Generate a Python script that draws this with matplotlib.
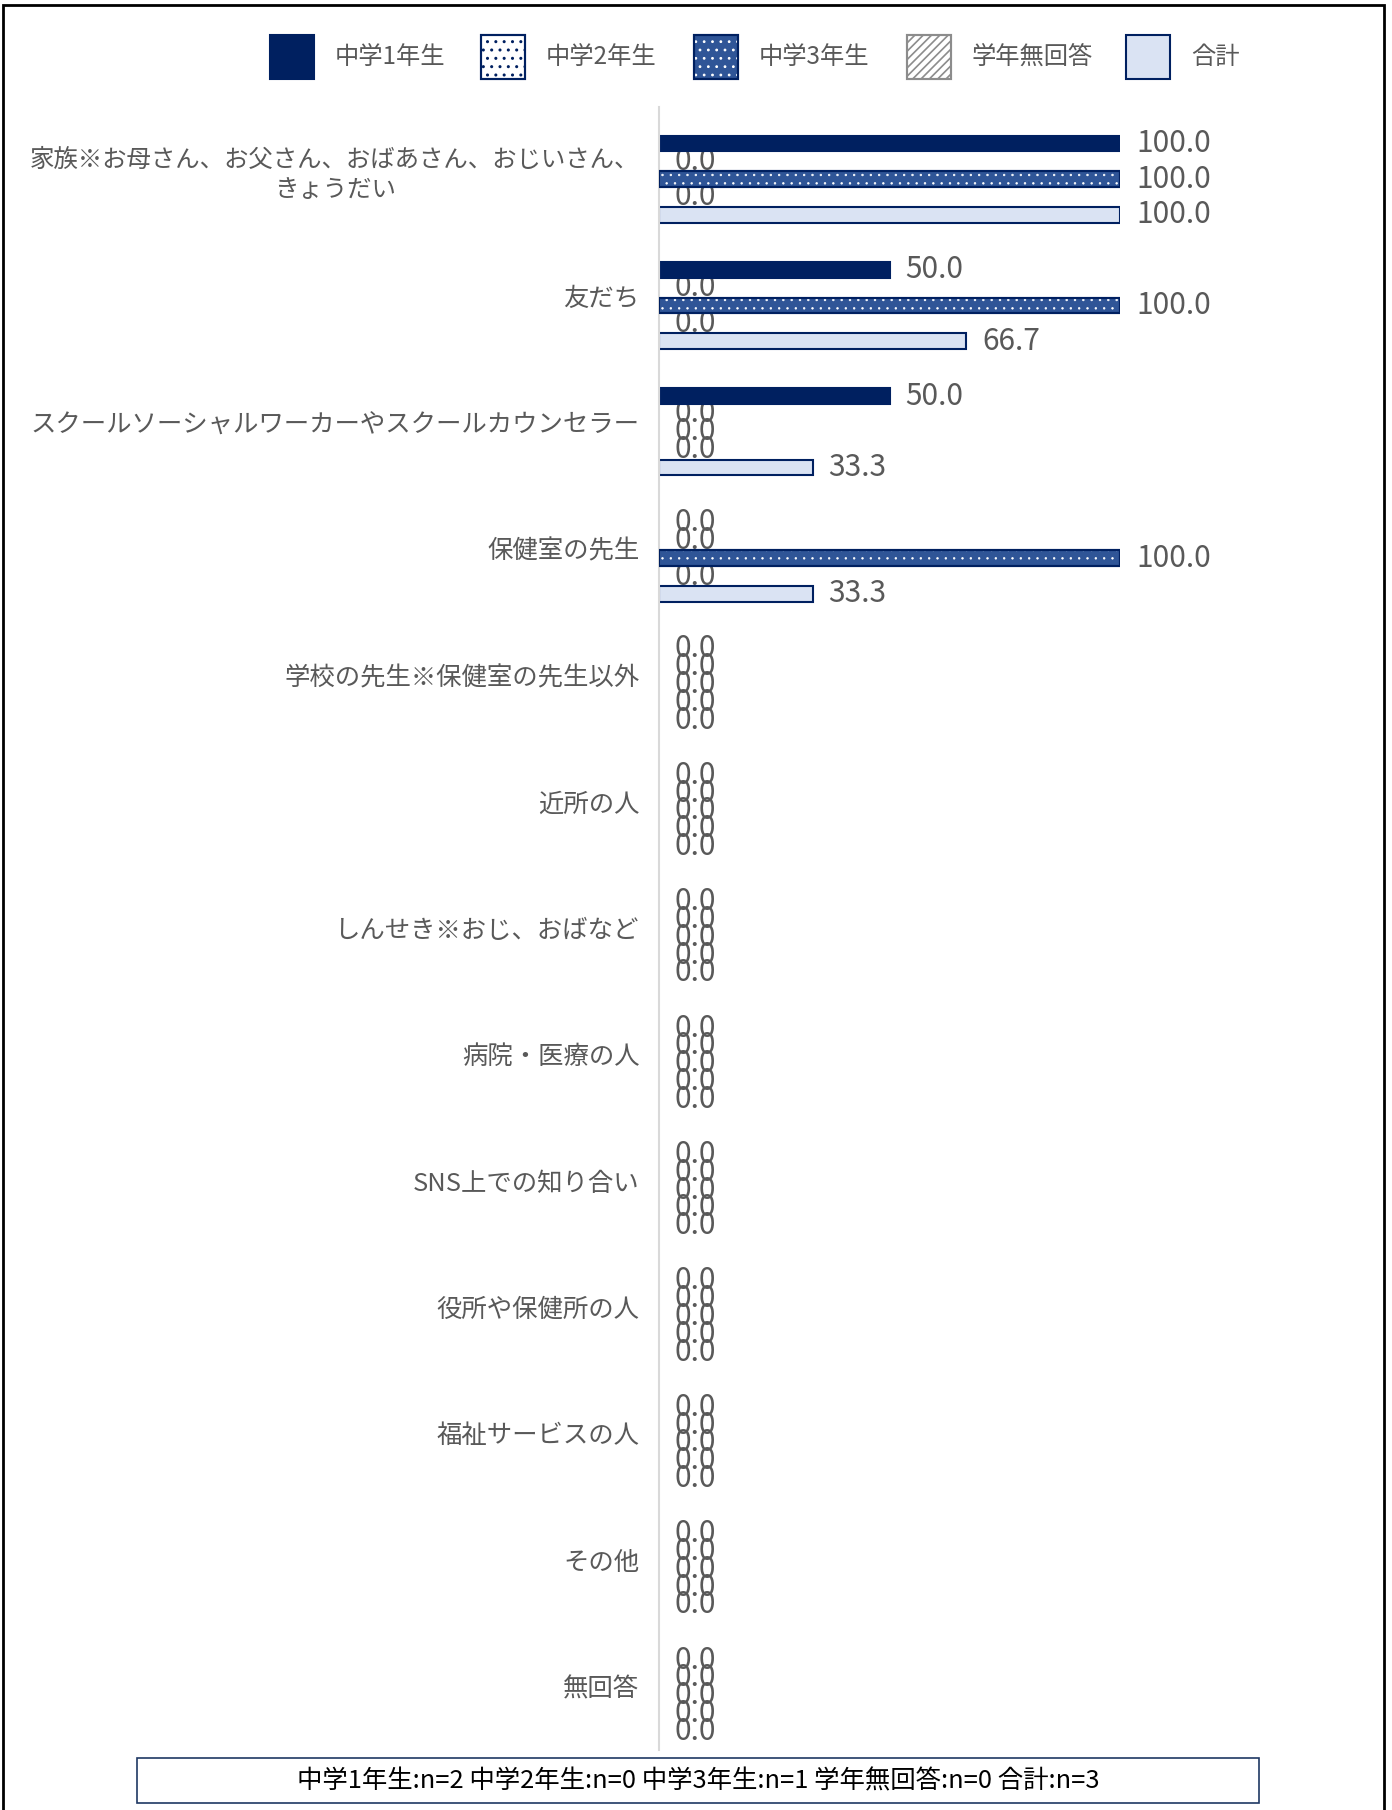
import numpy as np
import matplotlib as mpl
import matplotlib.pyplot as plt
from matplotlib.patches import Rectangle

plt.rcParams['font.family'] = ['Noto Sans CJK JP', 'DejaVu Sans']

# 相談相手 (%)
categories = [
    '家族※お母さん、お父さん、おばあさん、おじいさん、\nきょうだい',
    '友だち',
    'スクールソーシャルワーカーやスクールカウンセラー',
    '保健室の先生',
    '学校の先生※保健室の先生以外',
    '近所の人',
    'しんせき※おじ、おばなど',
    '病院・医療の人',
    'SNS上での知り合い',
    '役所や保健所の人',
    '福祉サービスの人',
    'その他',
    '無回答',
]
series_names = ['中学1年生', '中学2年生', '中学3年生', '学年無回答', '合計']
grade1 = [100.0, 50.0, 50.0, 0.0, 0.0, 0.0, 0.0, 0.0, 0.0, 0.0, 0.0, 0.0, 0.0]
grade2 = [0.0] * 13
grade3 = [100.0, 100.0, 0.0, 100.0, 0.0, 0.0, 0.0, 0.0, 0.0, 0.0, 0.0, 0.0, 0.0]
no_grade = [0.0] * 13
total = [100.0, 66.7, 33.3, 33.3, 0.0, 0.0, 0.0, 0.0, 0.0, 0.0, 0.0, 0.0, 0.0]
footnote = '中学1年生:n=2 中学2年生:n=0 中学3年生:n=1 学年無回答:n=0 合計:n=3'

series = [grade1, grade2, grade3, no_grade, total]

NAVY = '#002060'
# (face, edge, hatch, hatch colour, hatch linewidth)
styles = [
    (NAVY, NAVY, None, None, 1.0),
    ('white', NAVY, '..', NAVY, 1.0),
    ('#2F5597', NAVY, '..', 'white', 0.5),
    ('white', '#8C8C8C', '////', '#8C8C8C', 1.2),
    ('#DAE3F3', NAVY, None, None, 1.0),
]
TXT = '#595959'

W, H = 1392, 1810
fig = plt.figure(figsize=(W / 100, H / 100), dpi=100)

# plot area in pixels
x0, x100 = 659, 1120
y_top, y_bot = 107, 1750
ax = fig.add_axes([x0 / W, 1 - y_bot / H, (x100 - x0) / W, (y_bot - y_top) / H])

n = len(categories)
y = np.arange(n)
slot = 0.141
bh = 0.124
offsets = (np.arange(5) - 2) * slot

for i, vals in enumerate(series):
    fc, ec, hatch, hc, hlw = styles[i]
    vals = np.array(vals)
    lw = np.where(vals > 0, 1.5, 0.0)
    ax.barh(y + offsets[i], vals, height=bh, color=fc, edgecolor=ec,
            linewidth=lw, zorder=2)
    if hatch:
        with mpl.rc_context({'hatch.linewidth': hlw}):
            ax.barh(y + offsets[i], vals, height=bh, color='none', edgecolor=hc,
                    hatch=hatch, linewidth=0, zorder=3)
        ax.barh(y + offsets[i], vals, height=bh, color='none', edgecolor=ec,
                linewidth=lw, zorder=4)
    for yy, v in zip(y + offsets[i], vals):
        ax.annotate(f'{v:.1f}', (v, yy), xytext=(11.5, 0),
                    textcoords='offset points', ha='left', va='center',
                    fontsize=21.5, color=TXT, zorder=1, annotation_clip=False)

ax.set_xlim(0, 100)
ax.set_ylim(n - 0.57, -0.57)
ax.set_yticks(y - 0.075)
ax.set_yticklabels(categories, fontsize=18.3, color=TXT, multialignment='center')
ax.get_yticklabels()[0].set_fontsize(17.6)
ax.tick_params(axis='y', length=0, pad=14)
ax.set_xticks([])
for s in ['top', 'right', 'bottom']:
    ax.spines[s].set_visible(False)
ax.spines['left'].set_color('#D9D9D9')
ax.spines['left'].set_linewidth(1.5)
ax.patch.set_visible(False)

# legend across the top
patch_x = [270, 481, 694, 907, 1126]
for i, name in enumerate(series_names):
    fc, ec, hatch, hc, hlw = styles[i]
    px = patch_x[i]
    box = (px / W, 1 - 79 / H)
    fig.patches.append(Rectangle(box, 44 / W, 44 / H, transform=fig.transFigure,
                                 facecolor=fc, edgecolor=ec, linewidth=1.5))
    if hatch:
        with mpl.rc_context({'hatch.linewidth': max(hlw, 0.8)}):
            fig.patches.append(Rectangle(box, 44 / W, 44 / H,
                                         transform=fig.transFigure,
                                         facecolor='none', edgecolor=hc,
                                         hatch=hatch, linewidth=0))
        fig.patches.append(Rectangle(box, 44 / W, 44 / H, transform=fig.transFigure,
                                     facecolor='none', edgecolor=ec, linewidth=1.5))
    fig.text((px + 65) / W, 1 - 57 / H, name, fontsize=17.5, color=TXT,
             ha='left', va='center')

# n= box at the bottom
fig.patches.append(Rectangle((137 / W, 1 - 1803 / H), 1122 / W, 45 / H,
                             transform=fig.transFigure, facecolor='white',
                             edgecolor='#1F3864', linewidth=1.2))
fig.text(698 / W, 1 - 1781 / H, footnote, fontsize=18.3, color='black',
         ha='center', va='center')

# outer frame
fig.patches.append(Rectangle((3 / W, -0.01), 1381 / W, 1.0 - 5 / H + 0.01,
                             transform=fig.transFigure, facecolor='none',
                             edgecolor='black', linewidth=2, clip_on=False))

fig.savefig('out.png', dpi=100)
